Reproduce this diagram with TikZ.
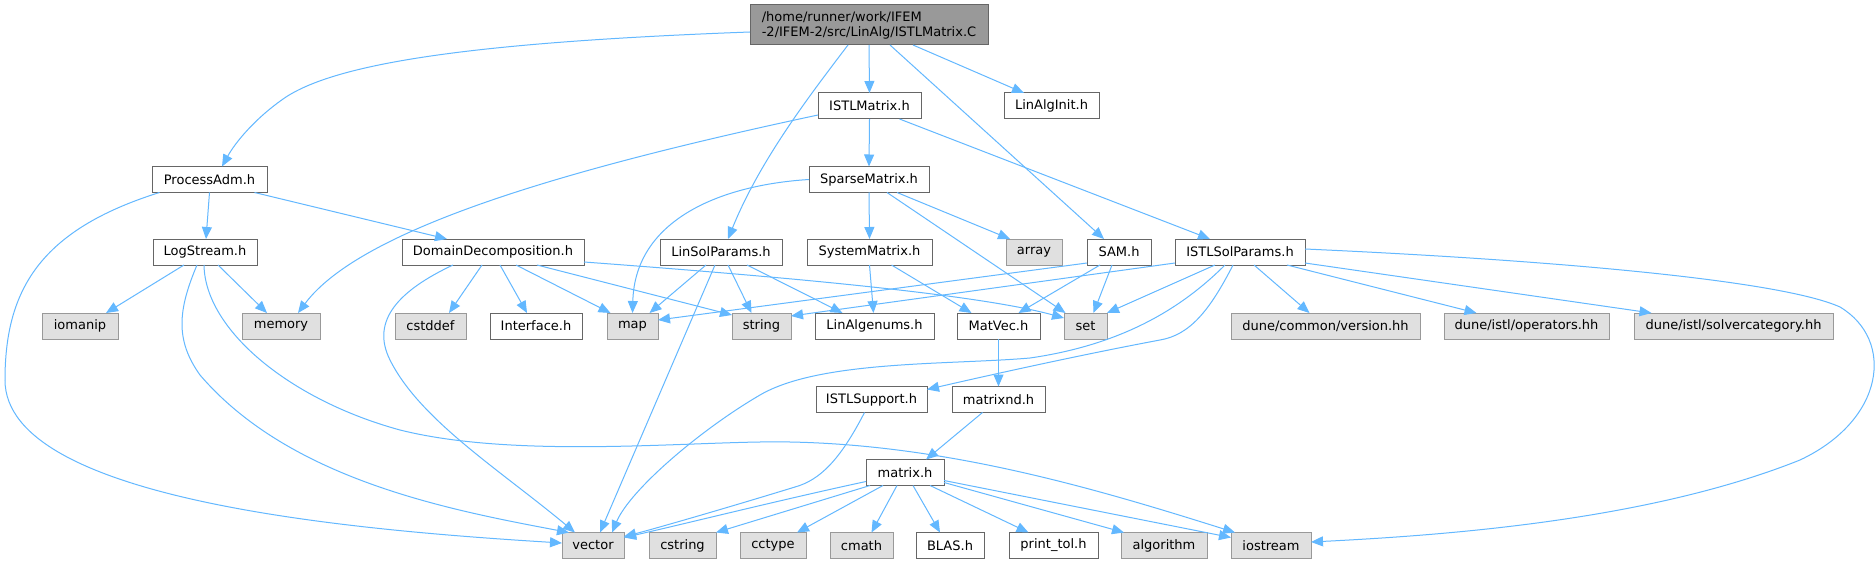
\documentclass[tikz,border=0pt]{standalone}
\usepackage{fontspec}
\setmainfont{DejaVu Sans}
\usetikzlibrary{arrows.meta}
\definecolor{edgecol}{HTML}{63B8FF}
\definecolor{docline}{HTML}{666666}
\definecolor{extline}{HTML}{999999}
\definecolor{extfill}{HTML}{E0E0E0}
\definecolor{rootfill}{HTML}{999999}
\tikzset{
  box/.style={draw, line width=1pt, inner sep=0pt, outer sep=0pt, minimum height=26pt, font=\fontsize{13pt}{15pt}\selectfont},
  doc/.style={box, draw=docline, fill=white},
  ext/.style={box, draw=extline, fill=extfill},
  rootbox/.style={box, draw=docline, fill=rootfill, minimum height=40pt, align=left},
  dep/.style={draw=edgecol, line width=1pt, -{Triangle[length=12pt,width=10pt]}}
}
\begin{document}
\begin{tikzpicture}[x=1pt,y=-1pt]
\useasboundingbox[fill=white] (0,0) rectangle (1876,564);
% nodes
\node[rootbox, minimum width=238pt] (root) at (869,25) {/home/runner/work/IFEM\\-2/IFEM-2/src/LinAlg/ISTLMatrix.C};
\node[doc, minimum width=103pt] (istlmatrix) at (869.5,106) {ISTLMatrix.h};
\node[doc, minimum width=95pt] (linalginit) at (1051.5,106) {LinAlgInit.h};
\node[doc, minimum width=115pt] (processadm) at (209.5,179.5) {ProcessAdm.h};
\node[doc, minimum width=120pt] (sparse) at (869,179.5) {SparseMatrix.h};
\node[doc, minimum width=104pt] (logstream) at (205,252) {LogStream.h};
\node[doc, minimum width=182pt] (dd) at (493,252) {DomainDecomposition.h};
\node[doc, minimum width=122pt] (linsol) at (721,252) {LinSolParams.h};
\node[doc, minimum width=125pt] (system) at (869.5,252) {SystemMatrix.h};
\node[ext, minimum width=56pt] (array) at (1034,252) {array};
\node[doc, minimum width=64pt] (sam) at (1119,252) {SAM.h};
\node[doc, minimum width=130pt] (istlsol) at (1240,252) {ISTLSolParams.h};
\node[ext, minimum width=76pt] (iomanip) at (80,326) {iomanip};
\node[ext, minimum width=78pt] (memory) at (281,326) {memory};
\node[ext, minimum width=71pt] (cstddef) at (430.5,326) {cstddef};
\node[doc, minimum width=92pt] (interface) at (536,326) {Interface.h};
\node[ext, minimum width=51pt] (map) at (632.5,326) {map};
\node[ext, minimum width=59pt] (string) at (761.5,326) {string};
\node[doc, minimum width=119pt] (linalgenums) at (874.5,326) {LinAlgenums.h};
\node[doc, minimum width=83pt] (matvec) at (998.5,326) {MatVec.h};
\node[ext, minimum width=43pt] (set) at (1085.5,326) {set};
\node[ext, minimum width=189pt] (version) at (1325.5,326) {dune/common/version.hh};
\node[ext, minimum width=165pt] (operators) at (1526.5,326) {dune/istl/operators.hh};
\node[ext, minimum width=199pt] (solvercat) at (1733.5,326) {dune/istl/solvercategory.hh};
\node[doc, minimum width=111pt] (istlsupport) at (871.5,399.5) {ISTLSupport.h};
\node[doc, minimum width=93pt] (matrixnd) at (998.5,399.5) {matrixnd.h};
\node[doc, minimum width=78pt] (matrix) at (905,472.5) {matrix.h};
\node[ext, minimum width=62pt] (vector) at (593,545.5) {vector};
\node[ext, minimum width=67pt] (cstring) at (682.5,545.5) {cstring};
\node[ext, minimum width=66pt] (cctype) at (773,545.5) {cctype};
\node[ext, minimum width=63pt] (cmath) at (861.5,545.5) {cmath};
\node[doc, minimum width=68pt] (blas) at (950,545.5) {BLAS.h};
\node[doc, minimum width=89pt] (printtol) at (1053.5,545.5) {print\_tol.h};
\node[ext, minimum width=86pt] (algorithm) at (1164,545.5) {algorithm};
\node[ext, minimum width=80pt] (iostream) at (1271,545.5) {iostream};
% edges from root
\draw[dep] ([yshift=-7pt]root.west) .. controls (480,42) and (340,62) .. (286,97) .. controls (255,118) and (235,143) .. ([xshift=12.5pt]processadm.north);
\draw[dep] (root.south) -- (istlmatrix.north);
\draw[dep] ([xshift=44pt]root.south) -- ([xshift=-27.5pt]linalginit.north);
\draw[dep] ([xshift=21pt]root.south) -- ([xshift=-15pt]sam.north);
\draw[dep] ([xshift=-21pt]root.south) .. controls (810,95) and (760,160) .. ([xshift=7pt]linsol.north);
% ISTLMatrix
\draw[dep] (istlmatrix.south) -- (sparse.north);
\draw[dep] ([xshift=30pt]istlmatrix.south) -- ([xshift=-30pt]istlsol.north);
\draw[dep] ([yshift=-9pt]istlmatrix.west) .. controls (560,170) and (360,230) .. ([xshift=17pt]memory.north);
% ProcessAdm
\draw[dep] (processadm.south) -- ([xshift=1pt]logstream.north);
\draw[dep] ([xshift=45pt]processadm.south) -- ([xshift=-46pt]dd.north);
\draw[dep] ([xshift=-50pt]processadm.south) .. controls (40,230) and (5,290) .. (5,380) .. controls (5,500) and (350,530) .. ([yshift=2.5pt]vector.west);
% LogStream
\draw[dep] ([xshift=-21pt]logstream.south) -- ([xshift=26pt]iomanip.north);
\draw[dep] ([xshift=13pt]logstream.south) -- ([xshift=-14pt]memory.north);
\draw[dep] ([xshift=-8pt]logstream.south) .. controls (178,310) and (175,340) .. (200,375) .. controls (290,480) and (450,510) .. ([xshift=-24pt]vector.north);
\draw[dep] ([xshift=-1pt]logstream.south) .. controls (205,330) and (290,400) .. (400,430) .. controls (520,460) and (700,440) .. (790,442) .. controls (950,445) and (1100,490) .. ([xshift=-36pt]iostream.north);
% DomainDecomposition
\draw[dep] ([xshift=-11pt]dd.south) -- ([xshift=18.5pt]cstddef.north);
\draw[dep] ([xshift=7pt]dd.south) -- ([xshift=-9pt]interface.north);
\draw[dep] ([xshift=23pt]dd.south) -- ([xshift=-22pt]map.north);
\draw[dep] ([xshift=44pt]dd.south) -- ([yshift=-2pt]string.north west);
\draw[dep] ([yshift=-10pt]dd.east) .. controls (800,278) and (980,295) .. ([yshift=8pt]set.west);
\draw[dep] ([xshift=-40pt]dd.south) .. controls (400,290) and (370,320) .. (390,360) .. controls (420,420) and (500,470) .. ([xshift=-18pt]vector.north);
% SparseMatrix
\draw[dep] (sparse.west) .. controls (720,185) and (635,220) .. (map.north);
\draw[dep] (sparse.south) -- (system.north);
\draw[dep] ([xshift=28pt]sparse.south) -- ([xshift=-24pt]array.north);
\draw[dep] ([xshift=18pt]sparse.south) -- ([xshift=-20pt]set.north);
% LinSolParams
\draw[dep] ([xshift=-15pt]linsol.south) -- ([xshift=17pt]map.north);
\draw[dep] ([xshift=7pt]linsol.south) -- ([xshift=-10pt]string.north);
\draw[dep] ([xshift=26pt]linsol.south) -- ([xshift=-32pt]linalgenums.north);
\draw[dep] ([xshift=-6pt]linsol.south) -- ([xshift=7pt]vector.north);
% SystemMatrix
\draw[dep] (system.south) -- ([xshift=-1pt]linalgenums.north);
\draw[dep] ([xshift=22pt]system.south) -- ([xshift=-27pt]matvec.north);
% SAM
\draw[dep] ([yshift=-11pt]sam.west) -- ([yshift=6pt]map.east);
\draw[dep] ([xshift=-19pt]sam.south) -- ([xshift=20pt]matvec.north);
\draw[dep] ([xshift=-7pt]sam.south) -- ([xshift=8pt]set.north);
% ISTLSolParams
\draw[dep] ([yshift=-11pt]istlsol.west) -- ([yshift=10pt]string.east);
\draw[dep] ([xshift=-25pt]istlsol.south) -- (set.north east);
\draw[dep] ([xshift=-15pt]istlsol.south) .. controls (1180,310) and (1120,345) .. (1030,358) .. controls (950,365) and (820,360) .. (760,395) .. controls (700,430) and (630,490) .. ([xshift=19pt]vector.north);
\draw[dep] ([xshift=-7pt]istlsol.south) .. controls (1210,310) and (1190,335) .. (1160,340) .. controls (1080,355) and (990,375) .. ([yshift=10pt]istlsupport.east);
\draw[dep] ([xshift=14pt]istlsol.south) -- ([xshift=-16pt]version.north);
\draw[dep] ([xshift=47pt]istlsol.south) -- ([xshift=-50pt]operators.north);
\draw[dep] ([yshift=-11pt]istlsol.east) -- ([xshift=-82pt]solvercat.north);
\draw[dep] ([yshift=3pt]istlsol.east) .. controls (1550,260) and (1780,280) .. (1840,307) .. controls (1895,340) and (1885,420) .. (1800,460) .. controls (1650,520) and (1450,535) .. ([yshift=3.5pt]iostream.east);
% lower part
\draw[dep] (matvec.south) -- (matrixnd.north);
\draw[dep] ([xshift=-16pt]matrixnd.south) -- ([xshift=21pt]matrix.north);
\draw[dep] ([xshift=-7pt]istlsupport.south) .. controls (840,460) and (820,480) .. (795,487) .. controls (720,510) and (650,530) .. ([yshift=9pt]vector.east);
\draw[dep] ([yshift=-9pt]matrix.west) .. controls (780,500) and (680,525) .. ([yshift=8pt]vector.east);
\draw[dep] ([xshift=-35pt]matrix.south) -- (cstring.north east);
\draw[dep] ([xshift=-22pt]matrix.south) -- ([xshift=24pt]cctype.north);
\draw[dep] ([xshift=-8pt]matrix.south) -- ([xshift=10pt]cmath.north);
\draw[dep] ([xshift=8pt]matrix.south) -- ([xshift=-10pt]blas.north);
\draw[dep] ([xshift=25pt]matrix.south) -- ([xshift=-25pt]printtol.north);
\draw[dep] ([yshift=-10pt]matrix.east) -- ([xshift=-40pt]algorithm.north);
\draw[dep] ([yshift=-8pt]matrix.east) -- ([yshift=8pt]iostream.west);
\end{tikzpicture}
\end{document}
